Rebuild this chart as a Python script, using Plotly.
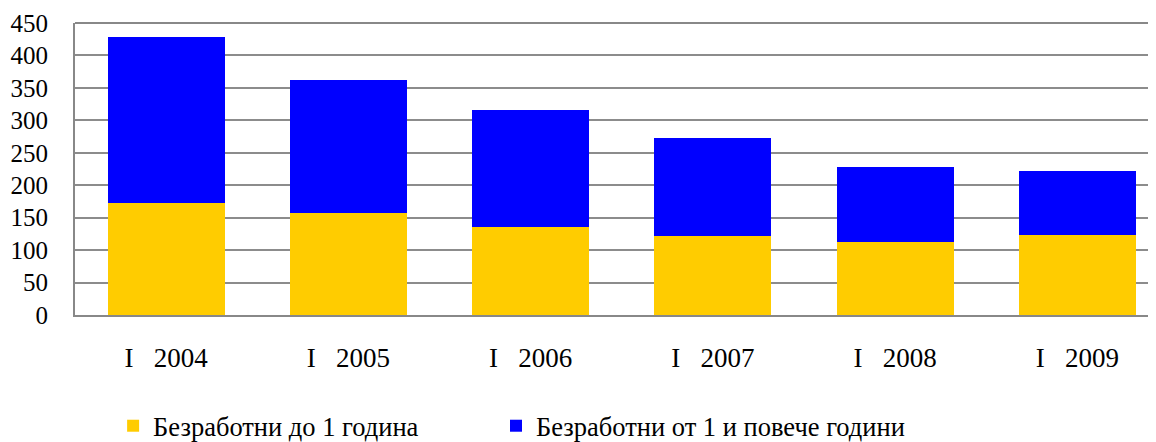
import plotly.graph_objects as go

categories = ["I\u00a0\u00a0\u00a02004", "I\u00a0\u00a0\u00a02005", "I\u00a0\u00a0\u00a02006",
              "I\u00a0\u00a0\u00a02007", "I\u00a0\u00a0\u00a02008", "I\u00a0\u00a0\u00a02009"]
under_1_year = [173, 157, 136, 121, 112, 124]
over_1_year = [256, 205, 180, 152, 116, 98]
series_names = ["Безработни до 1 година", "Безработни от 1 и повече години"]
y_ticks = [0, 50, 100, 150, 200, 250, 300, 350, 400, 450]

SERIF = "Liberation Serif, Times New Roman, serif"

fig = go.Figure()
fig.add_trace(go.Bar(x=categories, y=under_1_year, name=series_names[0],
                     marker=dict(color="#FFCC00", line=dict(width=0)), legend="legend"))
fig.add_trace(go.Bar(x=categories, y=over_1_year, name=series_names[1],
                     marker=dict(color="#0000FF", line=dict(width=0)), legend="legend2"))

legend_common = dict(orientation="h", xanchor="left", y=0.0, yanchor="bottom",
                     yref="container", font=dict(family=SERIF, size=26.5),
                     itemwidth=30, bgcolor="rgba(0,0,0,0)")

fig.update_layout(
    barmode="stack",
    bargap=0.358,
    width=1156, height=442,
    margin=dict(l=67, r=0, t=15, b=135, autoexpand=False),
    paper_bgcolor="white", plot_bgcolor="white",
    font=dict(family=SERIF, color="black", size=25),
    showlegend=True,
    legend=dict(x=0.035, **legend_common),
    legend2=dict(x=0.3866, **legend_common),
    xaxis=dict(range=[-0.5, 5.476], showline=True, linecolor="#888888", linewidth=2,
               tickfont=dict(family=SERIF, size=27), ticks="", showgrid=False,
               ticklabelstandoff=18),
    yaxis=dict(range=[0, 450], tickvals=y_ticks, showgrid=True, gridcolor="#8c8c8c",
               gridwidth=1.5, showline=True, linecolor="#888888", linewidth=2,
               ticks="", tickfont=dict(family=SERIF, size=25), zeroline=False,
               ticklabelstandoff=20),
    shapes=[dict(type="line", xref="paper", yref="paper", x0=0, x1=1, y0=1, y1=1,
                 line=dict(color="#888888", width=2))],
)

fig.write_html("out.html")
